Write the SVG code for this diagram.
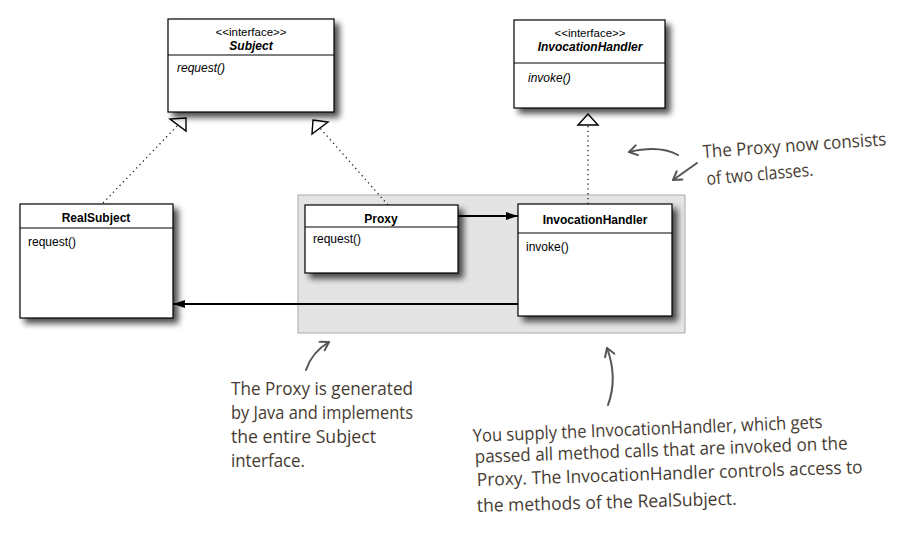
<svg xmlns="http://www.w3.org/2000/svg" width="922" height="538" viewBox="0 0 922 538">
<defs>
<filter id="sh" x="-20%" y="-20%" width="140%" height="150%">
<feGaussianBlur in="SourceAlpha" stdDeviation="3"/>
<feOffset dx="5" dy="5" result="b"/>
<feComponentTransfer><feFuncA type="linear" slope="0.7"/></feComponentTransfer>
<feMerge><feMergeNode/><feMergeNode in="SourceGraphic"/></feMerge>
</filter>
<marker id="solid" viewBox="0 0 12 8" refX="12" refY="4" markerWidth="12" markerHeight="8" markerUnits="userSpaceOnUse" orient="auto">
<path d="M0,0 L12,4 L0,8 Z" fill="#000"/>
</marker>
<marker id="hand" viewBox="0 0 12 12" refX="10" refY="6" markerWidth="12" markerHeight="12" markerUnits="userSpaceOnUse" orient="auto">
<path d="M2,1 L10,6 L2,11" fill="none" stroke="#555" stroke-width="2" stroke-linecap="round" stroke-linejoin="round"/>
</marker>
</defs>
<style>
.box{fill:#fff;stroke:#000;stroke-width:1.2}
.div{stroke:#000;stroke-width:1}
.t{font-family:"Liberation Sans",Arial,sans-serif;font-size:12px;fill:#000}
.st{font-size:11.5px}
.b{font-weight:bold}
.i{font-style:italic}
.dot{stroke:#222;stroke-width:1.3;stroke-dasharray:1.3 3.5;fill:none}
.tri{fill:#fff;stroke:#000;stroke-width:1.4}
.assoc{stroke:#000;stroke-width:2;fill:none}
.h{font-family:"Open Sans","DejaVu Sans",sans-serif;font-size:18px;fill:#463c33}
.ha{stroke:#555;stroke-width:2;fill:none;stroke-linecap:round}
</style>
<rect x="0" y="0" width="922" height="538" fill="#fff"/>
<g id="proxy-group-bg">
<rect x="298" y="195" width="387" height="138" fill="#e4e4e4" stroke="#aaa" stroke-width="1"/>
</g>
<g id="connectors">
<line class="dot" x1="103" y1="203" x2="178" y2="125"/>
<polygon class="tri" points="186,118 170,119 186,131"/>
<line class="dot" x1="388" y1="205" x2="320" y2="128"/>
<polygon class="tri" points="313,120 328,122 312,134"/>
<line class="dot" x1="588" y1="204" x2="588" y2="125"/>
<polygon class="tri" points="588,114 578,125 598,125"/>
<line class="assoc" x1="458" y1="216" x2="518" y2="216" marker-end="url(#solid)"/>
<line class="assoc" x1="518" y1="304" x2="173" y2="304" marker-end="url(#solid)"/>
</g>
<g id="subject">
<rect class="box" x="168" y="19" width="166" height="93" filter="url(#sh)"/>
<line class="div" x1="168" y1="55" x2="334" y2="55"/>
<text class="t st" x="251" y="36" text-anchor="middle">&lt;&lt;interface&gt;&gt;</text>
<text class="t b i" x="251" y="50" text-anchor="middle">Subject</text>
<text class="t i" x="177" y="72">request()</text>
</g>
<g id="invocationhandler-interface">
<rect class="box" x="514" y="20" width="151" height="88" filter="url(#sh)"/>
<line class="div" x1="514" y1="63" x2="665" y2="63"/>
<text class="t st" x="590" y="37" text-anchor="middle">&lt;&lt;interface&gt;&gt;</text>
<text class="t b i" x="590" y="51" text-anchor="middle">InvocationHandler</text>
<text class="t i" x="528" y="82">invoke()</text>
</g>
<g id="realsubject">
<rect class="box" x="20" y="204" width="153" height="114" filter="url(#sh)"/>
<line class="div" x1="20" y1="228" x2="173" y2="228"/>
<text class="t b" x="96" y="222" text-anchor="middle">RealSubject</text>
<text class="t" x="28" y="246">request()</text>
</g>
<g id="proxy">
<rect class="box" x="305" y="205" width="153" height="68" filter="url(#sh)"/>
<line class="div" x1="305" y1="227" x2="458" y2="227"/>
<text class="t b" x="381" y="223" text-anchor="middle">Proxy</text>
<text class="t" x="313" y="243">request()</text>
</g>
<g id="invocationhandler">
<rect class="box" x="518" y="204" width="154" height="112" filter="url(#sh)"/>
<line class="div" x1="518" y1="233" x2="672" y2="233"/>
<text class="t b" x="595" y="224" text-anchor="middle">InvocationHandler</text>
<text class="t" x="526" y="251">invoke()</text>
</g>
<g id="note-two-classes">
<path class="ha" d="M678,155 Q660,145 629,152" marker-end="url(#hand)"/>
<path class="ha" d="M697,163 L673,180" marker-end="url(#hand)"/>
<text class="h" transform="translate(703,158) rotate(-4)" textLength="184" lengthAdjust="spacingAndGlyphs">The Proxy now consists</text>
<text class="h" transform="translate(707,185) rotate(-5)" textLength="107" lengthAdjust="spacingAndGlyphs">of two classes.</text>
</g>
<g id="note-generated">
<path class="ha" d="M306,370 Q312,352 329,342" marker-end="url(#hand)"/>
<text class="h" x="231" y="395" textLength="182" lengthAdjust="spacingAndGlyphs">The Proxy is generated</text>
<text class="h" x="231" y="419" textLength="182" lengthAdjust="spacingAndGlyphs">by Java and implements</text>
<text class="h" x="231" y="443" textLength="145" lengthAdjust="spacingAndGlyphs">the entire Subject</text>
<text class="h" x="231" y="467" textLength="74" lengthAdjust="spacingAndGlyphs">interface.</text>
</g>
<g id="note-supply">
<path class="ha" d="M608,405 Q618,378 607,348" marker-end="url(#hand)"/>
<text class="h" transform="translate(473,442) rotate(-2.3)" textLength="350" lengthAdjust="spacingAndGlyphs">You supply the InvocationHandler, which gets</text>
<text class="h" transform="translate(475,463) rotate(-2.1)" textLength="373" lengthAdjust="spacingAndGlyphs">passed all method calls that are invoked on the</text>
<text class="h" transform="translate(477,486) rotate(-1.9)" textLength="386" lengthAdjust="spacingAndGlyphs">Proxy.  The InvocationHandler controls access to</text>
<text class="h" transform="translate(477,512) rotate(-1.6)" textLength="260" lengthAdjust="spacingAndGlyphs">the methods of the RealSubject.</text>
</g>
</svg>
